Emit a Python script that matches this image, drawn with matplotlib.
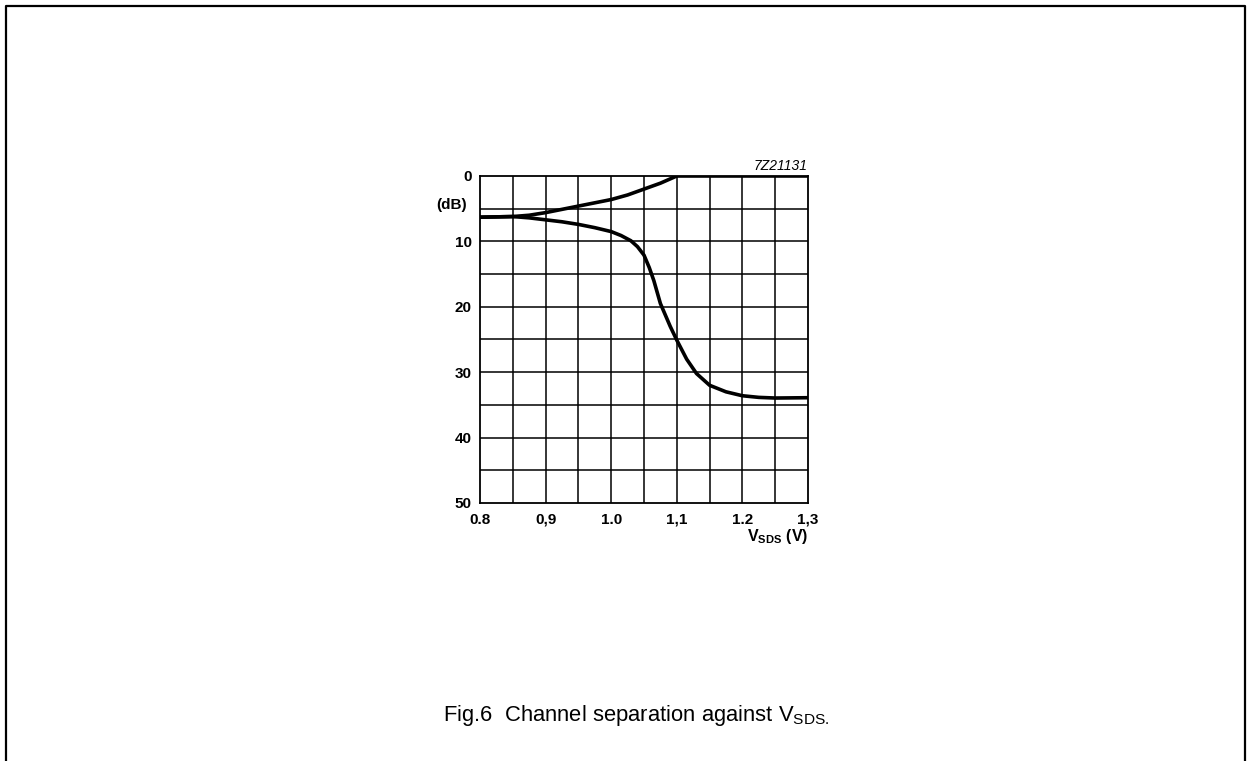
import matplotlib
matplotlib.use("Agg")
import matplotlib.pyplot as plt
from matplotlib.lines import Line2D

plt.rcParams['font.family'] = ['Liberation Sans', 'DejaVu Sans']

# upper curve (dB) against V_SDS (V)
v_upper = [0.80, 0.85, 0.875, 0.90, 0.925, 0.95, 0.975, 1.00, 1.025, 1.05, 1.075, 1.10,
           1.15, 1.20, 1.25, 1.30]
db_upper = [6.3, 6.2, 6.0, 5.6, 5.1, 4.6, 4.1, 3.6, 2.9, 2.0, 1.1, 0.0,
            0.0, 0.0, 0.0, 0.0]

# lower curve
v_lower = [0.80, 0.85, 0.875, 0.90, 0.925, 0.95, 0.975, 1.00, 1.015, 1.03, 1.04, 1.05,
           1.058, 1.065, 1.075, 1.09, 1.10, 1.115, 1.13, 1.15, 1.175, 1.20,
           1.225, 1.25, 1.30]
db_lower = [6.3, 6.2, 6.4, 6.7, 7.0, 7.4, 7.9, 8.5, 9.1, 9.9, 10.8, 12.1,
            14.0, 16.0, 19.5, 23.0, 25.1, 28.0, 30.2, 32.0, 33.0, 33.6,
            33.85, 33.95, 33.9]

x_ticks = [0.8, 0.9, 1.0, 1.1, 1.2, 1.3]
x_ticklabels = ["0.8", "0,9", "1.0", "1,1", "1.2", "1,3"]
y_ticks = [0, 10, 20, 30, 40, 50]

fig = plt.figure(figsize=(12.47, 7.61), dpi=100, facecolor='white')

# page frame (open at bottom)
fig.add_artist(Line2D([5.5 / 1247, 5.5 / 1247, 1245 / 1247, 1245 / 1247],
                      [-0.1, 1 - 5.5 / 761, 1 - 5.5 / 761, -0.1],
                      transform=fig.transFigure, color='black', lw=1.6))

ax = fig.add_axes([480 / 1247, 1 - 503 / 761, 328 / 1247, 327 / 761])
ax.set_xlim(0.8, 1.3)
ax.set_ylim(50, 0)

# grid every 0.05 V and 5 dB
for i in range(1, 10):
    ax.axvline(0.8 + 0.05 * i, color='black', lw=1.1, zorder=1)
    ax.axhline(5 * i, color='black', lw=1.1, zorder=1)
for s in ax.spines.values():
    s.set_linewidth(1.3)

ax.plot(v_upper, db_upper, color='black', lw=2.6, solid_joinstyle='round',
        solid_capstyle='round', zorder=3)
ax.plot(v_lower, db_lower, color='black', lw=2.6, solid_joinstyle='round',
        solid_capstyle='round', zorder=3)

ax.set_xticks(x_ticks)
ax.set_xticklabels(x_ticklabels)
ax.set_yticks(y_ticks)
ax.tick_params(length=0, labelsize=11)
ax.tick_params(axis='x', pad=7)
ax.tick_params(axis='y', pad=6)
for lab in ax.get_xticklabels() + ax.get_yticklabels():
    lab.set_fontweight('bold')

fig.text(467 / 1247, 1 - 205 / 761, "(dB)", ha='right', va='center',
         fontsize=11, fontweight='bold')
fig.text(808 / 1247, 1 - 537 / 761, r"$\mathregular{V_{SDS}}$ (V)", ha='right',
         va='center', fontsize=11.5, fontweight='bold')
fig.text(808 / 1247, 1 - 166 / 761, "7Z21131", ha='right', va='center',
         fontsize=10, style='italic')

fig.text(443 / 1247, 1 - 715 / 761,
         r"Fig.6  Channel separation against $\mathregular{V_{SDS.}}$",
         ha='left', va='center', fontsize=15.8)

fig.savefig("out.png", dpi=100, facecolor='white')
